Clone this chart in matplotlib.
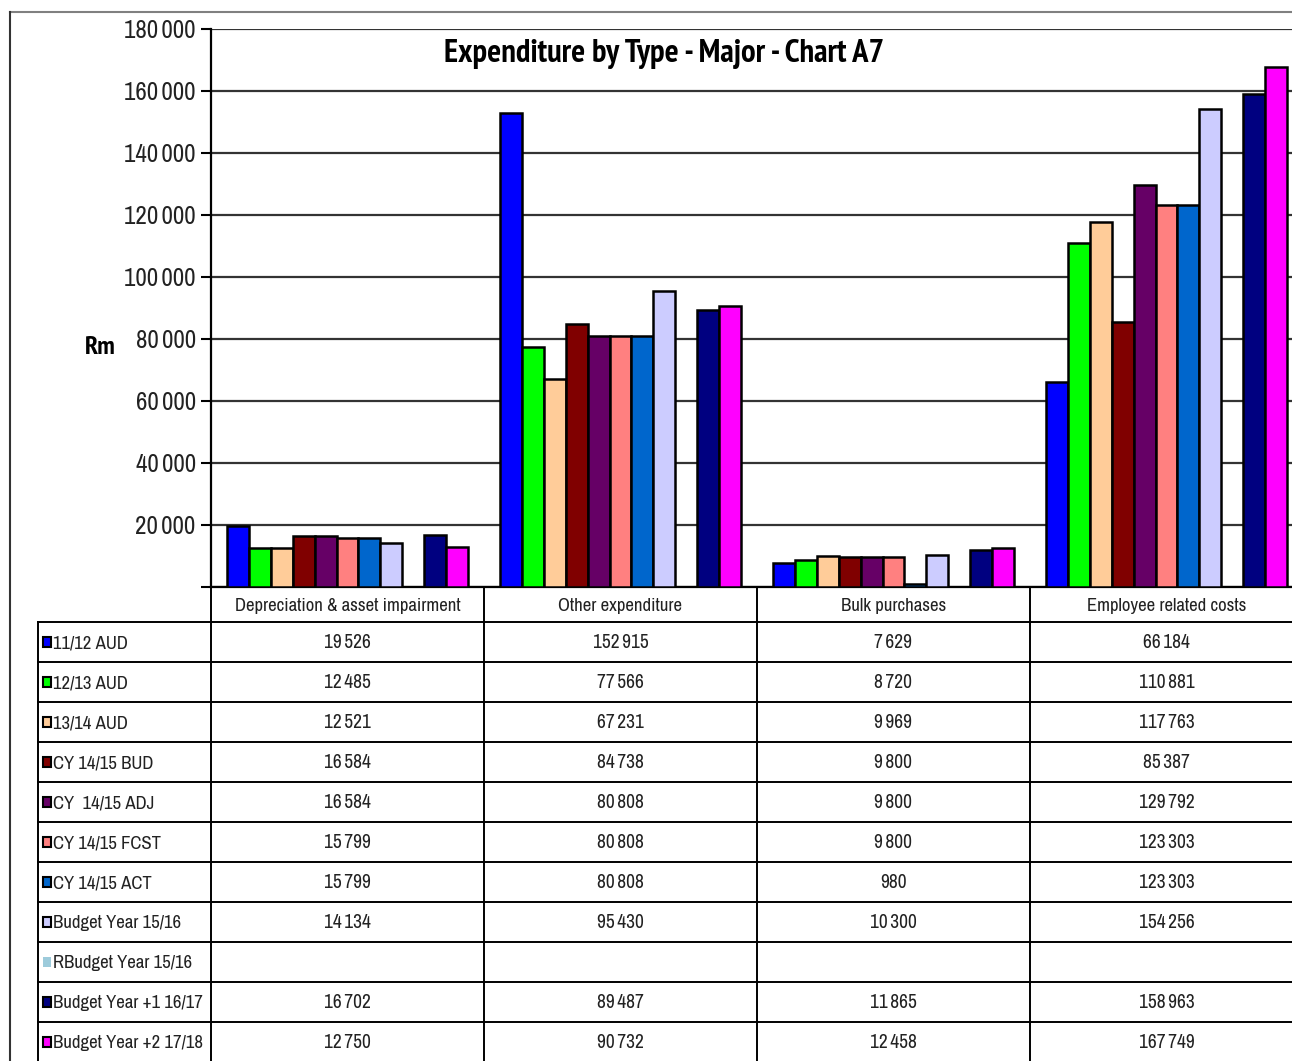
import numpy as np
import matplotlib.pyplot as plt
from matplotlib.patches import Rectangle
from matplotlib.ticker import FuncFormatter

# categories and series
categories = ["Depreciation & asset impairment", "Other expenditure",
              "Bulk purchases", "Employee related costs"]
series_names = ["11/12 AUD", "12/13 AUD", "13/14 AUD", "CY 14/15 BUD",
                "CY  14/15 ADJ", "CY 14/15 FCST", "CY 14/15 ACT",
                "Budget Year 15/16", "RBudget Year 15/16",
                "Budget Year +1 16/17", "Budget Year +2 17/18"]
series_colors = ["#0000FF", "#00FF00", "#FFCC99", "#800000", "#660066",
                 "#FF8080", "#0066CC", "#CCCCFF", "#9DCBDB", "#000080", "#FF00FF"]
values = [
    [19526, 152915, 7629, 66184],
    [12485, 77566, 8720, 110881],
    [12521, 67231, 9969, 117763],
    [16584, 84738, 9800, 85387],
    [16584, 80808, 9800, 129792],
    [15799, 80808, 9800, 123303],
    [15799, 80808, 980, 123303],
    [14134, 95430, 10300, 154256],
    [None, None, None, None],
    [16702, 89487, 11865, 158963],
    [12750, 90732, 12458, 167749],
]
y_ticks = list(range(0, 180001, 20000))

FONT = ["Archivo Narrow", "Liberation Sans", "DejaVu Sans"]
BOLD_FONT = ["PT Sans Narrow", "Roboto Condensed", "Liberation Sans", "DejaVu Sans"]
plt.rcParams["font.family"] = FONT


def fmt(v):
    return f"{int(v):,}".replace(",", "\u2009")


W, H = 1292, 1061
fig = plt.figure(figsize=(W / 100, H / 100), dpi=100)

# plot area in pixel units
left, right, top, base = 211, 1303, 29, 587
ax = fig.add_axes([left / W, (H - base) / H, (right - left) / W, (base - top) / H])

n = len(series_names)
bw = 0.08
x = np.arange(len(categories))
for j, (name, col, vals) in enumerate(zip(series_names, series_colors, values)):
    if all(v is None for v in vals):
        continue
    ax.bar(x + (j - (n - 1) / 2) * bw, vals, width=bw, color=col,
           edgecolor="black", linewidth=1.8, zorder=3)

ax.set_xlim(-0.5, len(categories) - 0.5)
ax.set_ylim(0, 180000)
ax.set_yticks(y_ticks)
ax.yaxis.set_major_formatter(FuncFormatter(lambda v, p: "" if v == 0 else fmt(v)))
ax.tick_params(axis="y", labelsize=18, length=7, width=1.5, direction="out",
               pad=4, labelcolor="#222222")
ax.set_xticks([])
ax.grid(axis="y", color="#333333", linewidth=1.6, zorder=0)
for s in ["top", "right"]:
    ax.spines[s].set_visible(False)
ax.spines["left"].set_linewidth(1.6)
ax.spines["bottom"].set_linewidth(1.6)

ax.set_title("Expenditure by Type - Major - Chart A7", fontsize=23.5, family=BOLD_FONT,
             fontweight="bold", x=(664 - left) / (right - left), y=0.967, va="top")
fig.text(100 / W, 1 - 348 / H, "Rm", fontsize=19, fontweight="bold", family=BOLD_FONT,
         ha="center", va="center")

# data table drawn in pixel coordinates
tb = fig.add_axes([0, 0, 1, 1], zorder=5)
tb.set_xlim(0, W)
tb.set_ylim(H, 0)
tb.axis("off")
tb.patch.set_alpha(0)

col_w = (right - left) / len(categories)
col_edges = [left + i * col_w for i in range(len(categories) + 1)]
head_bot = 622
row_h = 40
lab_left = 38
bottom = head_bot + row_h * n

lk = dict(color="black", linewidth=1.4)
tb.plot([lab_left, W], [head_bot, head_bot], **lk)
for r in range(1, n + 1):
    yy = head_bot + r * row_h
    tb.plot([lab_left, W], [yy, yy], **lk)
tb.plot([lab_left, lab_left], [head_bot, bottom], **lk)
for xe in col_edges:
    tb.plot([xe, xe], [base, bottom], **lk)

for i, cat in enumerate(categories):
    cx = left + (i + 0.5) * col_w
    tb.text(cx, (base + head_bot) / 2 + 1, cat, fontsize=13.5,
            ha="center", va="center", color="#222222")
    for r, vals in enumerate(values):
        v = vals[i]
        if v is None:
            continue
        tb.text(cx, head_bot + (r + 0.5) * row_h + 1, fmt(v),
                fontsize=14, ha="center", va="center", color="#222222")

for r, (name, col) in enumerate(zip(series_names, series_colors)):
    cy = head_bot + (r + 0.5) * row_h
    if name.startswith("RBudget"):
        tb.add_patch(Rectangle((43, cy - 5), 8, 10, facecolor=col, edgecolor="none"))
    else:
        tb.add_patch(Rectangle((43, cy - 5), 8, 10, facecolor=col,
                               edgecolor="black", linewidth=1.5))
    tb.text(53, cy + 1, name, fontsize=13.5, ha="left", va="center", color="#222222")

# outer frame
tb.plot([10, W], [12, 12], color="#808080", linewidth=1.5)
tb.plot([10, 10], [12, H], color="#333333", linewidth=1.5)

fig.savefig("out.png", dpi=100)
